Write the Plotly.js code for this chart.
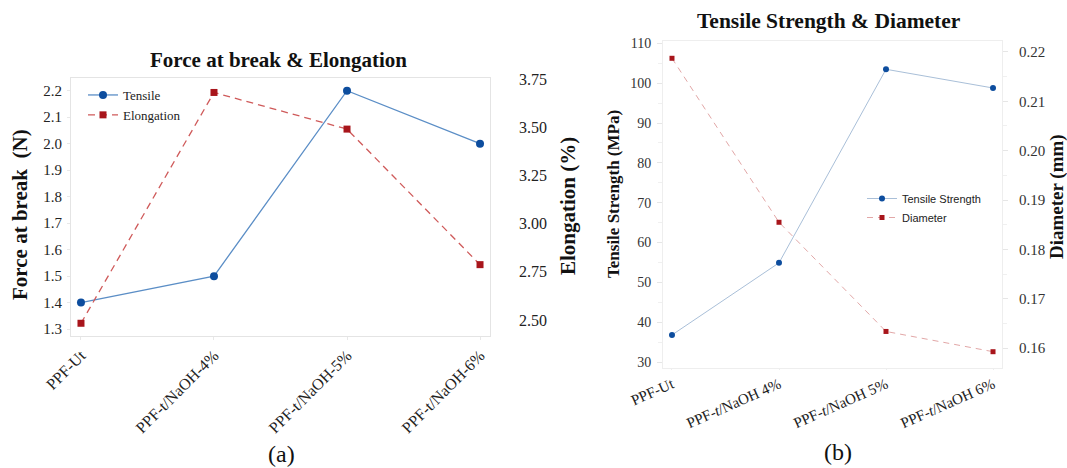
<!DOCTYPE html>
<html>
<head>
<meta charset="utf-8">
<script src="https://cdn.plot.ly/plotly-3.0.1.min.js"></script>
<style>html,body{margin:0;padding:0;background:#fff;}#chart{width:1067px;height:468px;}</style>
</head>
<body>
<div id="chart"></div>
<script>
// Panel (a) data
const categoriesA = ['PPF-Ut', 'PPF-t/NaOH-4%', 'PPF-t/NaOH-5%', 'PPF-t/NaOH-6%'];
const forceAtBreak = [1.40, 1.50, 2.20, 2.00];
const elongation = [2.483, 3.68, 3.49, 2.787];
const forceTicks = [1.3, 1.4, 1.5, 1.6, 1.7, 1.8, 1.9, 2.0, 2.1, 2.2];
const elongTicks = [2.50, 2.75, 3.00, 3.25, 3.50, 3.75];

// Panel (b) data
const categoriesB = ['PPF-Ut', 'PPF-<i>t</i>/NaOH 4%', 'PPF-<i>t</i>/NaOH 5%', 'PPF-<i>t</i>/NaOH 6%'];
const tensileStrength = [36.8, 54.9, 103.5, 98.8];
const diameter = [0.2187, 0.1855, 0.1634, 0.1593];
const strengthTicks = [30, 40, 50, 60, 70, 80, 90, 100, 110];
const diameterTicks = [0.16, 0.17, 0.18, 0.19, 0.20, 0.21, 0.22];

const W = 1067, H = 468;
const px = v => v / W;
const py = v => 1 - v / H;

const serif = 'Liberation Serif, Times New Roman, serif';
const sans = 'Liberation Sans, Arial, sans-serif';
const idx = arr => arr.map((_, i) => i);

const traces = [
  {
    x: idx(categoriesA), y: forceAtBreak, name: 'Tensile', type: 'scatter', mode: 'lines+markers',
    xaxis: 'x', yaxis: 'y', legend: 'legend',
    line: {color: '#5b8ec6', width: 1.3},
    marker: {symbol: 'circle', size: 8, color: '#0d4d9e'}
  },
  {
    x: idx(categoriesA), y: elongation, name: 'Elongation', type: 'scatter', mode: 'lines+markers',
    xaxis: 'x', yaxis: 'y2', legend: 'legend',
    line: {color: '#cf5a5a', width: 1.3, dash: '7px,5px'},
    marker: {symbol: 'square', size: 7, color: '#a8151b'}
  },
  {
    x: idx(categoriesB), y: tensileStrength, name: 'Tensile Strength', type: 'scatter', mode: 'lines+markers',
    xaxis: 'x2', yaxis: 'y3', legend: 'legend2',
    line: {color: '#a9bfd8', width: 1},
    marker: {symbol: 'circle', size: 6, color: '#0d4d9e'}
  },
  {
    x: idx(categoriesB), y: diameter, name: 'Diameter', type: 'scatter', mode: 'lines+markers',
    xaxis: 'x2', yaxis: 'y4', legend: 'legend2',
    line: {color: '#e2a7a7', width: 1, dash: '6px,5px'},
    marker: {symbol: 'square', size: 5, color: '#a8151b'}
  }
];

const frame = '#e4e4e4';
const layout = {
  width: W, height: H,
  margin: {l: 0, r: 0, t: 0, b: 0},
  paper_bgcolor: '#fff', plot_bgcolor: '#fff',
  showlegend: true,
  font: {family: serif, color: '#222'},
  xaxis: {
    domain: [px(71), px(490)], anchor: 'y', range: [-0.075, 3.075],
    tickmode: 'array', tickvals: idx(categoriesA), ticktext: categoriesA,
    tickangle: -45, tickfont: {family: serif, size: 16, color: '#222'},
    showline: true, linecolor: frame, mirror: true, showgrid: false, zeroline: false,
    ticks: 'outside', ticklen: 3, tickcolor: '#e8e8e8'
  },
  yaxis: {
    domain: [py(336), py(78)], anchor: 'x', range: [1.274, 2.248],
    tickmode: 'array', tickvals: forceTicks, ticktext: forceTicks.map(v => v.toFixed(1)),
    tickfont: {family: serif, size: 15, color: '#222'},
    showline: true, linecolor: frame, mirror: true, showgrid: false, zeroline: false,
    ticks: 'outside', ticklen: 3, tickcolor: '#e8e8e8', ticklabelstandoff: 2
  },
  yaxis2: {
    overlaying: 'y', side: 'right', anchor: 'x', range: [2.417, 3.755],
    tickmode: 'array', tickvals: elongTicks, ticktext: elongTicks.map(v => v.toFixed(2)),
    tickfont: {family: serif, size: 16, color: '#222'},
    showline: false, showgrid: false, zeroline: false,
    ticks: '', ticklabelstandoff: 28
  },
  xaxis2: {
    domain: [px(663), px(1002)], anchor: 'y3', range: [-0.084, 3.084],
    tickmode: 'array', tickvals: idx(categoriesB), ticktext: categoriesB,
    tickangle: -24, tickfont: {family: serif, size: 15, color: '#222'},
    showline: true, linecolor: '#eeeeee', mirror: true, showgrid: false, zeroline: false,
    ticks: 'outside', ticklen: 1, tickcolor: '#eeeeee'
  },
  yaxis3: {
    domain: [py(368), py(41)], anchor: 'x2', range: [28.5, 110.6],
    tickmode: 'array', tickvals: strengthTicks, ticktext: strengthTicks.map(String),
    tickfont: {family: serif, size: 14, color: '#333'},
    showline: true, linecolor: '#eeeeee', mirror: true, showgrid: false, zeroline: false,
    ticks: 'outside', ticklen: 5, tickcolor: '#e6e6e6', ticklabelstandoff: 3,
    minor: {ticks: 'outside', ticklen: 4, tickcolor: '#f0f0f0', dtick: 5}
  },
  yaxis4: {
    overlaying: 'y3', side: 'right', anchor: 'x2', range: [0.156, 0.2222],
    tickmode: 'array', tickvals: diameterTicks, ticktext: diameterTicks.map(v => v.toFixed(2)),
    tickfont: {family: serif, size: 15, color: '#333'},
    showline: false, showgrid: false, zeroline: false,
    ticks: 'outside', ticklen: 5, tickcolor: '#e6e6e6', ticklabelstandoff: 8,
    minor: {ticks: 'outside', ticklen: 4, tickcolor: '#f0f0f0', dtick: 0.005}
  },
  legend: {
    x: px(83), y: py(80), xanchor: 'left', yanchor: 'top',
    bgcolor: 'rgba(0,0,0,0)', borderwidth: 0,
    font: {family: serif, size: 13, color: '#222'},
    tracegroupgap: 0, itemwidth: 30
  },
  legend2: {
    x: px(862), y: py(184), xanchor: 'left', yanchor: 'top',
    bgcolor: 'rgba(0,0,0,0)', borderwidth: 0,
    font: {family: sans, size: 11, color: '#222'},
    tracegroupgap: 0, itemwidth: 30
  },
  annotations: [
    {text: '<b>Force at break &amp; Elongation</b>', x: px(278), y: py(60), xref: 'paper', yref: 'paper',
     showarrow: false, font: {family: serif, size: 21, color: '#111'}, xanchor: 'center', yanchor: 'middle'},
    {text: '<b>Tensile Strength &amp; Diameter</b>', x: px(829), y: py(21), xref: 'paper', yref: 'paper',
     showarrow: false, font: {family: serif, size: 21.5, color: '#111'}, xanchor: 'center', yanchor: 'middle'},
    {text: '<b>Force at break  (N)</b>', x: px(20), y: py(215), xref: 'paper', yref: 'paper', textangle: -90,
     showarrow: false, font: {family: serif, size: 21, color: '#111'}, xanchor: 'center', yanchor: 'middle'},
    {text: '<b>Elongation (%)</b>', x: px(568), y: py(206), xref: 'paper', yref: 'paper', textangle: -90,
     showarrow: false, font: {family: serif, size: 21, color: '#111'}, xanchor: 'center', yanchor: 'middle'},
    {text: '<b>Tensile Strength (MPa)</b>', x: px(613), y: py(194), xref: 'paper', yref: 'paper', textangle: -90,
     showarrow: false, font: {family: serif, size: 17, color: '#111'}, xanchor: 'center', yanchor: 'middle'},
    {text: '<b>Diameter (mm)</b>', x: px(1057), y: py(197), xref: 'paper', yref: 'paper', textangle: -90,
     showarrow: false, font: {family: serif, size: 19, color: '#111'}, xanchor: 'center', yanchor: 'middle'},
    {text: '(a)', x: px(281), y: py(454), xref: 'paper', yref: 'paper',
     showarrow: false, font: {family: serif, size: 24, color: '#111'}, xanchor: 'center', yanchor: 'middle'},
    {text: '(b)', x: px(838), y: py(452), xref: 'paper', yref: 'paper',
     showarrow: false, font: {family: serif, size: 24, color: '#111'}, xanchor: 'center', yanchor: 'middle'}
  ]
};

Plotly.newPlot('chart', traces, layout, {staticPlot: true, displayModeBar: false});
</script>
</body>
</html>
